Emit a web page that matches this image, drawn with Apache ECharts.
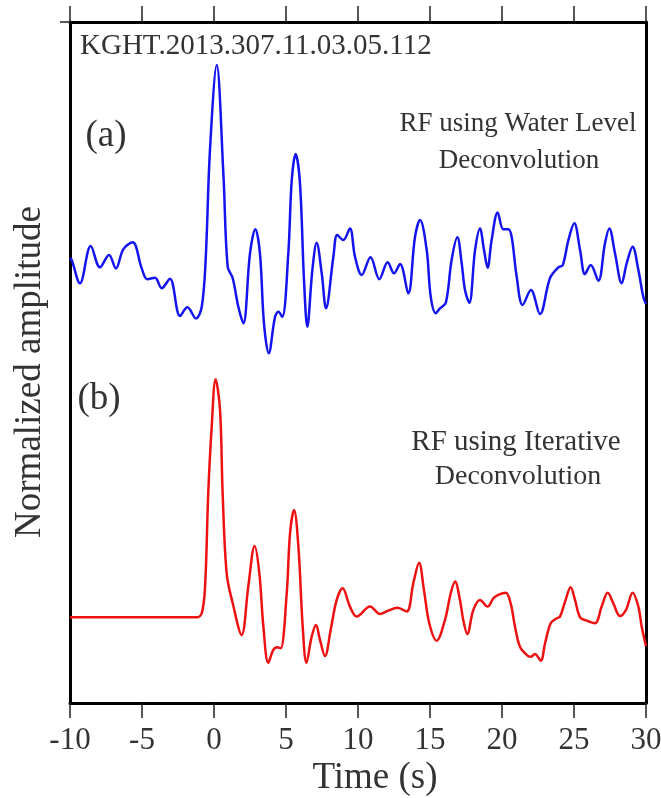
<!DOCTYPE html>
<html>
<head>
<meta charset="utf-8">
<script src="https://cdn.jsdelivr.net/npm/echarts@6/dist/echarts.min.js"></script>
<style>html,body{margin:0;padding:0;background:#fff;overflow:hidden;}#c{width:661px;height:798px;}</style>
</head>
<body>
<div id="c"></div>
<script>
// ---- data ----
const xTicks = [-10, -5, 0, 5, 10, 15, 20, 25, 30];
const stationLabel = 'KGHT.2013.307.11.03.05.112';

const blueTime = [-10,-9.88,-9.31,-8.56,-7.92,-7.29,-6.81,-6.3,-5.65,-5.02,-4.63,-4.1,-3.63,-3.06,-2.36,-1.85,-1.25,-0.85,-0.58,-0.28,0.19,0.65,0.95,1.3,1.69,2.04,2.5,2.87,3.19,3.47,3.8,4.24,4.47,4.74,5.16,5.4,5.67,5.97,6.25,6.48,6.83,7.13,7.48,7.78,8.29,8.56,8.98,9.44,9.79,10.26,10.87,11.48,12.06,12.5,12.92,13.49,13.96,14.31,14.77,15.05,15.4,15.69,16.1,16.5,16.9,17.2,17.43,17.73,18.13,18.47,18.75,19.0,19.28,19.7,20.09,20.44,20.67,21.02,21.43,22.01,22.64,23.33,23.91,24.22,24.61,25.02,25.42,25.76,26.16,26.69,27.15,27.45,27.85,28.31,28.66,29.07,29.47,29.81,30];
const blueAmp = [0.059,0.049,-0.065,0.117,0.013,0.073,0.008,0.101,0.135,0.008,-0.045,-0.038,-0.089,-0.042,-0.224,-0.182,-0.236,-0.179,0.049,0.585,1.0,0.472,0.016,-0.040,-0.179,-0.260,0.081,0.199,0.081,-0.260,-0.406,-0.228,-0.204,-0.228,0.081,0.439,0.566,0.423,-0.049,-0.277,0,0.133,-0.016,-0.187,0.065,0.171,0.146,0.203,0.065,-0.024,0.062,-0.045,0.038,-0.016,0.029,-0.114,0.162,0.244,0.098,-0.130,-0.211,-0.187,-0.160,0.049,0.160,0.033,-0.098,-0.160,0.098,0.203,0.098,0.011,0.146,0.281,0.199,0.199,0.162,-0.033,-0.171,-0.098,-0.215,-0.040,0.013,0.024,0.146,0.228,0.098,-0.020,0.024,-0.052,0.130,0.203,0.081,-0.065,0.033,0.114,0,-0.130,-0.166];

const redTime = [-10,-1.2,-0.85,-0.62,-0.40,-0.16,0.11,0.42,0.60,0.88,1.30,1.92,2.38,2.82,3.15,3.43,3.77,4.12,4.40,4.63,5.05,5.28,5.56,5.86,6.16,6.42,6.78,7.08,7.36,7.71,8.1,8.52,8.93,9.44,9.91,10.83,11.53,12.1,12.73,13.38,13.84,14.24,14.58,14.95,15.46,16.04,16.44,16.74,17.08,17.31,17.59,18.01,18.47,19.0,19.40,19.74,20.26,20.6,20.9,21.25,21.71,21.99,22.29,22.69,22.99,23.38,23.80,24.03,24.38,24.77,25.07,25.42,25.88,26.46,26.92,27.34,27.73,28.19,28.61,29.07,29.47,29.70,30];
const redAmp = [0,0,0.017,0.129,0.521,0.801,1.0,0.871,0.521,0.185,0.059,-0.074,0.129,0.300,0.185,-0.039,-0.191,-0.137,-0.126,-0.130,0.101,0.353,0.451,0.297,-0.039,-0.191,-0.082,-0.032,-0.095,-0.163,-0.053,0.073,0.122,0.045,0.003,0.045,0.014,0.028,0.040,0.024,0.143,0.229,0.115,-0.025,-0.098,-0.011,0.101,0.150,0.073,-0.011,-0.070,0.031,0.073,0.045,0.080,0.094,0.103,0.059,-0.039,-0.124,-0.158,-0.166,-0.154,-0.182,-0.109,-0.025,-0.004,0.003,0.066,0.126,0.073,0,-0.014,-0.025,0.045,0.103,0.059,0.005,0.031,0.103,0.045,-0.039,-0.121];

// ---- chart ----
const FONT = '"Liberation Serif", "Times New Roman", serif';
const TXT = '#333333';
const zip = (t, a) => t.map((v, i) => [v, a[i]]);

const chart = echarts.init(document.getElementById('c'), null, {renderer: 'canvas'});
const frame = {show: true, onZero: false, lineStyle: {color: '#000', width: 3}};

chart.setOption({
  animation: false,
  backgroundColor: '#fff',
  grid: {left: 70, right: 15, top: 22, bottom: 95, containLabel: false, outerBoundsMode: 'none'},
  xAxis: [
    {
      type: 'value', position: 'bottom', min: xTicks[0], max: xTicks[xTicks.length - 1], interval: 5,
      axisLine: frame,
      axisTick: {show: true, inside: false, length: 15, lineStyle: {color: '#222', width: 1.5}},
      axisLabel: {show: true, margin: 22, fontFamily: FONT, fontSize: 31, color: TXT,
                  formatter: v => String(v)},
      splitLine: {show: false}
    },
    {
      type: 'value', position: 'top', min: xTicks[0], max: xTicks[xTicks.length - 1], interval: 5,
      axisLine: frame,
      axisTick: {show: true, inside: false, length: 16, lineStyle: {color: '#222', width: 1.5}},
      axisLabel: {show: false},
      splitLine: {show: false}
    }
  ],
  yAxis: [
    {
      type: 'value', position: 'left', min: -2.112, max: 1.2098,
      axisLine: frame,
      axisTick: {show: true, inside: false, length: 10, customValues: [1.2098], lineStyle: {color: '#222', width: 1.5}},
      axisLabel: {show: false},
      splitLine: {show: false}
    },
    {
      type: 'value', position: 'right', min: -0.360, max: 2.501,
      axisLine: frame,
      axisTick: {show: false},
      axisLabel: {show: false},
      splitLine: {show: false}
    }
  ],
  series: [
    {
      name: 'Water Level', type: 'line', xAxisIndex: 0, yAxisIndex: 0,
      data: zip(blueTime, blueAmp), showSymbol: false, smooth: 0.35,
      lineStyle: {color: '#1414ee', width: 2.5}
    },
    {
      name: 'Iterative', type: 'line', xAxisIndex: 0, yAxisIndex: 1,
      data: zip(redTime, redAmp), showSymbol: false, smooth: 0.35,
      lineStyle: {color: '#ee1111', width: 2.5}
    }
  ],
  graphic: [
    {type: 'text', style: {x: 80, y: 46.5, text: stationLabel, font: '29px ' + FONT, fill: TXT, textAlign: 'left', textVerticalAlign: 'middle'}},
    {type: 'text', style: {x: 106, y: 136, text: '(a)', font: '37px ' + FONT, fill: TXT, textAlign: 'center', textVerticalAlign: 'middle'}},
    {type: 'text', style: {x: 99, y: 399, text: '(b)', font: '37px ' + FONT, fill: TXT, textAlign: 'center', textVerticalAlign: 'middle'}},
    {type: 'text', style: {x: 518, y: 124, text: 'RF using Water Level', font: '27px ' + FONT, fill: TXT, textAlign: 'center', textVerticalAlign: 'middle'}},
    {type: 'text', style: {x: 519, y: 161, text: 'Deconvolution', font: '27px ' + FONT, fill: TXT, textAlign: 'center', textVerticalAlign: 'middle'}},
    {type: 'text', style: {x: 516, y: 442, text: 'RF using Iterative', font: '29px ' + FONT, fill: TXT, textAlign: 'center', textVerticalAlign: 'middle'}},
    {type: 'text', style: {x: 518, y: 476.5, text: 'Deconvolution', font: '28px ' + FONT, fill: TXT, textAlign: 'center', textVerticalAlign: 'middle'}},
    {type: 'text', style: {x: 375, y: 778, text: 'Time (s)', font: '37px ' + FONT, fill: TXT, textAlign: 'center', textVerticalAlign: 'middle'}},
    {type: 'text', x: 30, y: 372, rotation: Math.PI / 2,
     style: {x: 0, y: 0, text: 'Normalized amplitude', font: '37px ' + FONT, fill: TXT, textAlign: 'center', textVerticalAlign: 'middle'}}
  ]
});
</script>
</body>
</html>
